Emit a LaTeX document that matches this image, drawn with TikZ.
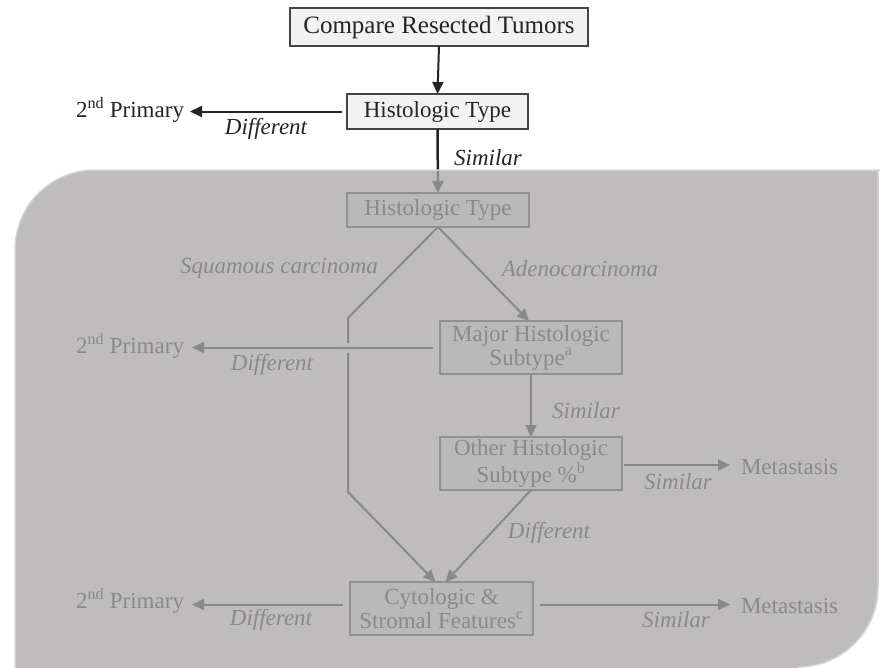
\documentclass[tikz,border=0pt]{standalone}
\usepackage{fontspec}
\setmainfont{Liberation Serif}
\usetikzlibrary{arrows.meta,calc}
\definecolor{ink}{RGB}{35,35,40}
\definecolor{boxfill}{RGB}{242,242,242}
\definecolor{veil}{RGB}{170,168,168}
\definecolor{veiledge}{RGB}{214,212,212}

\begin{document}
\begin{tikzpicture}[x=1pt,y=-1pt,
  every node/.style={inner sep=0pt, outer sep=0pt, text=ink},
  stepbox/.style={draw=ink!85, fill=boxfill, line width=1.6pt, align=center,
    font=\fontsize{23}{24}\selectfont},
  lbl/.style={font=\fontsize{23}{23}\selectfont\itshape},
  outcome/.style={font=\fontsize{23}{23}\selectfont},
  flow/.style={draw=ink, line width=2pt, -{Triangle[length=12pt,width=11pt]}},
]
\useasboundingbox (0,0) rectangle (880,667);

% decision boxes
\node[stepbox, font=\fontsize{25}{25}\selectfont, minimum width=298pt, minimum height=38pt] (cmp) at (439,27) {Compare Resected Tumors};
\node[stepbox, minimum width=181pt, minimum height=35pt] (ht1) at (437.5,111.5) {Histologic Type};
\node[stepbox, minimum width=182pt, minimum height=34pt] (ht2) at (438,210) {Histologic Type};
\node[stepbox, minimum width=182pt, minimum height=53pt] (maj) at (531,347.5) {Major Histologic\\Subtype\textsuperscript{a}};
\node[stepbox, minimum width=182pt, minimum height=53pt] (oth) at (531,463.5) {Other Histologic\\Subtype \%\textsuperscript{b}};
\node[stepbox, minimum width=183pt, minimum height=53pt] (cyt) at (441.5,608.5) {Cytologic \&\\Stromal Features\textsuperscript{c}};

% outcomes
\node[outcome, anchor=east] (p1) at (184,110) {2\textsuperscript{nd} Primary};
\node[outcome, anchor=east] (p2) at (184,346) {2\textsuperscript{nd} Primary};
\node[outcome, anchor=east] (p3) at (184,601) {2\textsuperscript{nd} Primary};
\node[outcome, anchor=west] (m1) at (741,467) {Metastasis};
\node[outcome, anchor=west] (m2) at (741,606) {Metastasis};

% edge labels
\node[lbl] (dif1) at (266,129) {Different};
\node[lbl] (sim1) at (488,158) {Similar};
\node[lbl] (sq) at (279,268) {Squamous carcinoma};
\node[lbl] (ad) at (580,269) {Adenocarcinoma};
\node[lbl] (dif2) at (272,365) {Different};
\node[lbl] (sim2) at (586,411) {Similar};
\node[lbl] (sim3) at (678,482) {Similar};
\node[lbl] (dif3) at (549,533) {Different};
\node[lbl] (dif4) at (271,620) {Different};
\node[lbl] (sim4) at (676,620) {Similar};

% bend points of the squamous branch
\coordinate (sqa) at (348,318);
\coordinate (sqb) at (348,492);
\coordinate (cw) at ($(cyt.west)+(0,-4)$);
\coordinate (ce) at ($(cyt.east)+(0,-4)$);

% connectors
\draw[flow] (cmp.south) -- (ht1.north);
\draw[flow, shorten <=5pt, shorten >=6pt] (ht1.west) -- (ht1.west -| p1.east);
\draw[flow, line width=2.5pt] (ht1.south) -- (ht2.north);
\draw[flow] (ht2.south) -- (sqa) -- (sqb) -- ($(cyt.north)+(-6,0)$);
\draw[flow] (ht2.south) -- ($(maj.north)+(-2,0)$);
% small break in the squamous line where the left arrow crosses it
\fill[white] ($(sqa |- maj.west)+(-8,-5)$) rectangle ($(sqa |- maj.west)+(8,5)$);
\draw[flow, shorten <=7pt, shorten >=8pt] (maj.west) -- (maj.west -| p2.east);
\draw[flow] (maj.south) -- (oth.north);
\draw[flow, shorten <=2pt, shorten >=11pt] ($(oth.east)+(0,1.5)$) -- ($(oth.east -| m1.west)+(0,1.5)$);
\draw[flow] (oth.south) -- ($(cyt.north)+(4,0)$);
\draw[flow, shorten <=7pt, shorten >=8pt] (cw) -- (cw -| p3.east);
\draw[flow, shorten <=7pt, shorten >=11pt] (ce) -- (ce -| m2.west);

% translucent panel over the lower part of the chart
\fill[veil, opacity=0.77]
  (15,670) -- (15,250) .. controls (15,205.8) and (50.8,170) .. (95,170)
  -- (878,170) -- (878,587)
  .. controls (878,631.2) and (842.2,667) .. (798,667) -- (798,670) -- cycle;
\draw[veiledge, line width=1.5pt]
  (15,670) -- (15,250) .. controls (15,205.8) and (50.8,170) .. (95,170) -- (882,170);
\draw[veiledge, line width=1.5pt]
  (878,170) -- (878,587) .. controls (878,631.2) and (842.2,667) .. (798,667);
\end{tikzpicture}
\end{document}
